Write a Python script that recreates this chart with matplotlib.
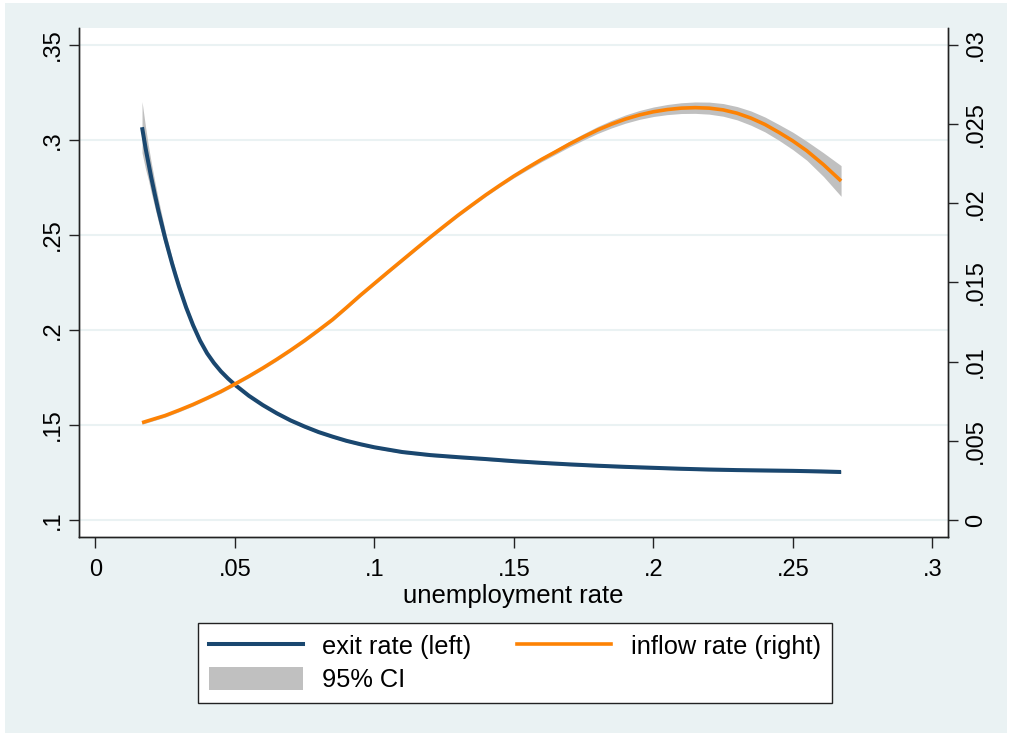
import matplotlib
matplotlib.use("Agg")
import matplotlib.pyplot as plt
from matplotlib.lines import Line2D
from matplotlib.patches import Patch, Rectangle

plt.rcParams['font.family'] = ['Liberation Sans', 'DejaVu Sans']

# exit rate (left axis)
exit_x = [0.0167, 0.018, 0.019, 0.020, 0.0213, 0.0225, 0.0238, 0.025, 0.0263,
          0.0275, 0.0288, 0.030, 0.0325, 0.035, 0.0375, 0.040, 0.0425, 0.045,
          0.0475, 0.050, 0.055, 0.060, 0.065, 0.070, 0.075, 0.080, 0.085, 0.090,
          0.095, 0.100, 0.11, 0.12, 0.13, 0.14, 0.15, 0.16, 0.17, 0.18, 0.19,
          0.20, 0.21, 0.22, 0.23, 0.24, 0.25, 0.26, 0.2673]
exit_y = [0.3067, 0.2954, 0.2878, 0.2802, 0.2712, 0.2632, 0.2554, 0.2482, 0.2412,
          0.2348, 0.2284, 0.2227, 0.2119, 0.2025, 0.1944, 0.1878, 0.1826, 0.1782,
          0.1745, 0.1712, 0.1654, 0.1605, 0.1562, 0.1524, 0.1492, 0.1463, 0.1439,
          0.1417, 0.1399, 0.1383, 0.1358, 0.1342, 0.1331, 0.1321, 0.1310, 0.1301,
          0.1293, 0.1286, 0.1280, 0.1275, 0.1270, 0.1266, 0.1263, 0.1261, 0.1259,
          0.1256, 0.1253]
exit_ci = [0.0135, 0.011, 0.009, 0.008, 0.0068, 0.006, 0.005, 0.0042, 0.0036,
           0.0031, 0.0027, 0.0024, 0.0019, 0.0016, 0.0013, 0.0011, 0.001, 0.0009,
           0.0009, 0.0008, 0.0008, 0.0008, 0.0008, 0.0008, 0.0008, 0.0007, 0.0007,
           0.0007, 0.0007, 0.0007, 0.0007, 0.0007, 0.0007, 0.0007, 0.0007, 0.0007,
           0.0007, 0.0007, 0.0007, 0.0007, 0.0007, 0.0007, 0.0007, 0.0007, 0.0007,
           0.0007, 0.0007]

# inflow rate (right axis)
inflow_x = [0.0167, 0.020, 0.025, 0.030, 0.035, 0.040, 0.045, 0.050, 0.055, 0.060,
            0.065, 0.070, 0.075, 0.080, 0.085, 0.090, 0.095, 0.100, 0.105, 0.110,
            0.115, 0.120, 0.125, 0.130, 0.135, 0.140, 0.145, 0.150, 0.155, 0.160,
            0.165, 0.170, 0.175, 0.180, 0.185, 0.190, 0.195, 0.200, 0.205, 0.210,
            0.215, 0.220, 0.225, 0.230, 0.235, 0.240, 0.245, 0.250, 0.255, 0.261,
            0.2673]
inflow_y = [0.00615, 0.00633, 0.0066, 0.00694, 0.0073, 0.0077, 0.00812, 0.00859,
            0.00908, 0.0096, 0.01015, 0.01073, 0.01134, 0.01199, 0.01266, 0.01342,
            0.0142, 0.01494, 0.01568, 0.01641, 0.01714, 0.01786, 0.01856, 0.01925,
            0.0199, 0.02054, 0.02114, 0.02172, 0.02226, 0.02278, 0.02326, 0.02375,
            0.0242, 0.02463, 0.025, 0.02532, 0.02558, 0.02578, 0.02592, 0.02601,
            0.02604, 0.02601, 0.0259, 0.02569, 0.02538, 0.02498, 0.02448, 0.02394,
            0.02332, 0.02244, 0.02141]
inflow_ci = [0.0001, 0.0001, 0.0001, 0.0001, 0.0001, 0.0001, 0.0001, 0.0001,
             0.0001, 0.0001, 0.0001, 0.0001, 0.0001, 0.0001, 0.0001, 0.0001,
             0.0001, 0.0001, 0.0001, 0.0001, 0.0001, 0.0001, 0.0001, 0.0001,
             0.0001, 0.0001, 0.0001, 0.00011, 0.00013, 0.000145, 0.00016, 0.00018,
             0.0002, 0.00022, 0.00024, 0.00026, 0.00028, 0.0003, 0.00032, 0.00034,
             0.00036, 0.00038, 0.0004, 0.00042, 0.00045, 0.00047, 0.0005, 0.00055,
             0.0006, 0.00075, 0.00097]

x_ticks = [0, 0.05, 0.1, 0.15, 0.2, 0.25, 0.3]
x_labels = ['0', '.05', '.1', '.15', '.2', '.25', '.3']
left_ticks = [0.1, 0.15, 0.2, 0.25, 0.3, 0.35]
left_labels = ['.1', '.15', '.2', '.25', '.3', '.35']
right_ticks = [0, 0.005, 0.01, 0.015, 0.02, 0.025, 0.03]
right_labels = ['0', '.005', '.01', '.015', '.02', '.025', '.03']

navy = '#1a476f'
orange = '#fd8204'
band = '#c0c0c0'
bg = '#eaf2f3'
fs = 17

fig = plt.figure(figsize=(10.12, 7.36), dpi=100, facecolor='white')
fig.patches.append(Rectangle((5 / 1012, 3 / 736), 1002 / 1012, 730 / 736,
                             transform=fig.transFigure, facecolor=bg,
                             edgecolor='none', zorder=-10))

ax = fig.add_axes([0.07806, 0.27038, 0.8587, 0.69158])
ax.set_facecolor('white')
ax2 = ax.twinx()

lo = [y - c for y, c in zip(exit_y, exit_ci)]
hi = [y + c for y, c in zip(exit_y, exit_ci)]
ax.fill_between(exit_x, lo, hi, color=band, lw=0, zorder=2)
ax.plot(exit_x, exit_y, color=navy, lw=2.9, zorder=3, solid_capstyle='butt',
        solid_joinstyle='round')

lo2 = [y - c for y, c in zip(inflow_y, inflow_ci)]
hi2 = [y + c for y, c in zip(inflow_y, inflow_ci)]
ax2.fill_between(inflow_x, lo2, hi2, color=band, lw=0, zorder=2)
ax2.plot(inflow_x, inflow_y, color=orange, lw=2.6, zorder=3, solid_capstyle='butt',
         solid_joinstyle='round')

ax.set_xlim(-0.0059, 0.30563)
ax.set_ylim(0.0911, 0.3589)
ax2.set_ylim(-0.00107, 0.03107)

ax.set_xticks(x_ticks)
ax.set_xticklabels(x_labels)
ax.set_yticks(left_ticks)
ax.set_yticklabels(left_labels, rotation=90, va='center')
ax2.set_yticks(right_ticks)
ax2.set_yticklabels(right_labels, rotation=90, va='center')

ax.grid(axis='y', color=bg, lw=1.5, zorder=0)
ax.set_axisbelow(True)

for a in (ax, ax2):
    a.spines['top'].set_visible(False)
    for s in ('left', 'right', 'bottom'):
        a.spines[s].set_color('#222222')
        a.spines[s].set_linewidth(1.0)
ax.tick_params(axis='x', length=8, width=1, pad=8, labelsize=fs, color='#222222')
ax.tick_params(axis='y', length=7.2, width=1, pad=4, labelsize=fs, color='#222222')
ax2.tick_params(axis='y', length=7.2, width=1, pad=5, labelsize=fs, color='#222222')

ax.set_xlabel('unemployment rate', fontsize=18.5, labelpad=2)

handles = [Line2D([], [], color=navy, lw=2.9),
           Patch(facecolor=band, edgecolor='none'),
           Line2D([], [], color=orange, lw=2.6)]
labels = ['exit rate (left)', '95% CI', 'inflow rate (right)']
leg = fig.legend(handles, labels, ncol=2, loc='center',
                 bbox_to_anchor=(515 / 1012, 1 - 663 / 736), fontsize=18.3,
                 frameon=True, fancybox=False, edgecolor='#222222',
                 framealpha=1, handlelength=3.7, handleheight=1.0,
                 handletextpad=0.75, columnspacing=1.8, labelspacing=0.3,
                 borderpad=0.45, borderaxespad=0)
leg.get_frame().set_linewidth(1.0)

fig.savefig('out.png', dpi=100, facecolor=fig.get_facecolor())
